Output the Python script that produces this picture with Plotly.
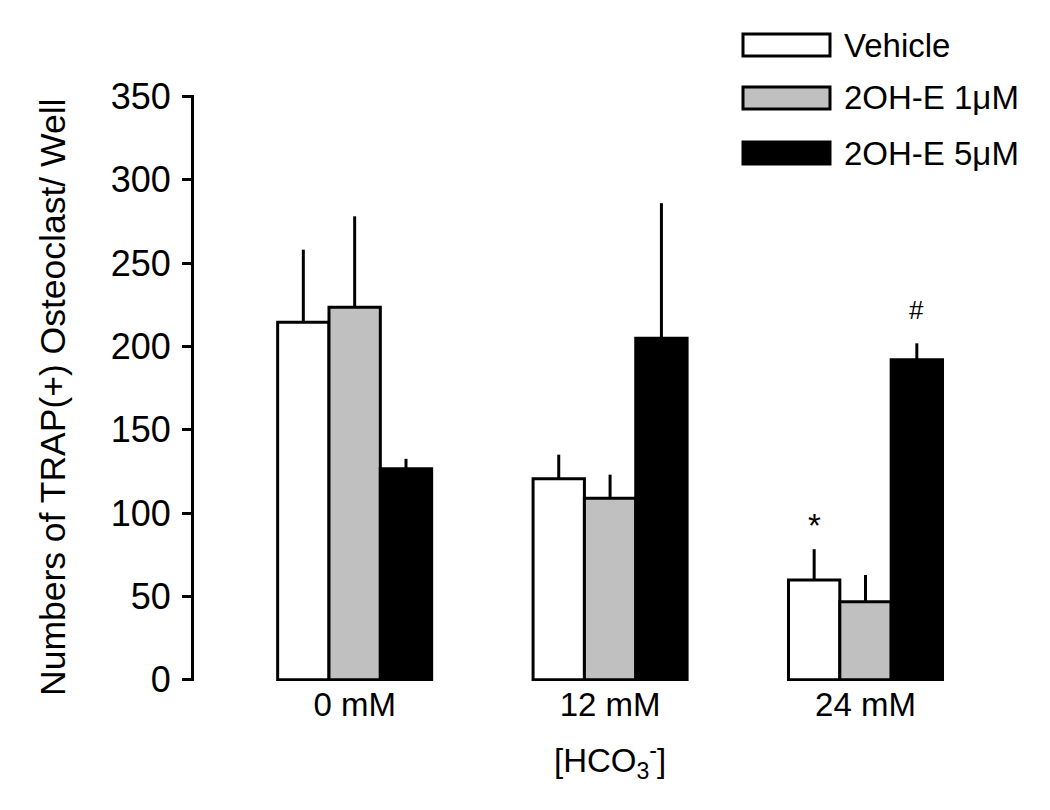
import plotly.graph_objects as go

categories = ["0 mM", "12 mM", "24 mM"]
series_names = ["Vehicle", "2OH-E 1μM", "2OH-E 5μM"]
vehicle = [214.4, 120.5, 59.8]
vehicle_err = [43.6, 14.5, 18.5]
ohe1 = [223.4, 108.8, 46.8]
ohe1_err = [54.6, 14.2, 16.0]
ohe5 = [126.5, 204.8, 191.9]
ohe5_err = [6.0, 81.1, 9.9]
y_ticks = [0, 50, 100, 150, 200, 250, 300, 350]
# significance marks: (series index, category index, symbol)
sig_marks = [(0, 2, "*"), (2, 2, "#")]

values = [vehicle, ohe1, ohe5]
errors = [vehicle_err, ohe1_err, ohe5_err]
fills = ["#ffffff", "#c0c0c0", "#000000"]

FONT = "Liberation Sans, Arial, sans-serif"
OFF = 8  # page body margin
W, H = 1050 - 2 * OFF, 810 - 2 * OFF
L, T = 194 - OFF, 95 - OFF
R = W - (995 - OFF)
B = H - (681 - OFF)
plot_w = W - L - R
plot_h = H - T - B

BARGAP = 0.397
bar_w = (1 - BARGAP) / 3

fig = go.Figure()
for name, v, e, c in zip(series_names, values, errors, fills):
    fig.add_trace(go.Bar(
        x=categories, y=v, name=name,
        marker=dict(color=c, line=dict(color="black", width=3)),
        error_y=dict(type="data", symmetric=False, array=e,
                     arrayminus=[0] * len(e), width=0, thickness=3,
                     color="black"),
        showlegend=False,
    ))

# significance annotations
for si, ci, sym in sig_marks:
    xpos = ci + (si - 1) * bar_w
    ytop = values[si][ci] + errors[si][ci]
    if sym == "*":
        fig.add_annotation(x=xpos, y=ytop + 2, text=sym, showarrow=False,
                           yanchor="bottom", font=dict(size=33, family=FONT, color="black"))
    else:
        fig.add_annotation(x=xpos, y=ytop + 10, text=sym, showarrow=False,
                           yanchor="bottom", font=dict(size=26, family=FONT, color="black"))


def px_x(px):
    return (px - OFF - L) / plot_w


def px_y(py):
    return (H - B - (py - OFF)) / plot_h


# custom legend with large boxes
row_centers = [45, 98, 153]
for name, c, yc in zip(series_names, fills, row_centers):
    fig.add_shape(type="rect", xref="paper", yref="paper",
                  x0=px_x(743), x1=px_x(830), y0=px_y(yc + 11), y1=px_y(yc - 11),
                  fillcolor=c, line=dict(color="black", width=3))
    fig.add_annotation(xref="paper", yref="paper", x=px_x(842), y=px_y(yc),
                       text=name, showarrow=False, xanchor="left", yanchor="middle",
                       font=dict(size=33, family=FONT, color="black"))

# y-axis title
fig.add_annotation(xref="paper", yref="paper", x=px_x(53), y=px_y(398),
                   text="Numbers of TRAP(+) Osteoclast/ Well", textangle=-90,
                   showarrow=False, xanchor="center", yanchor="middle",
                   font=dict(size=35.5, family=FONT, color="black"))
# x-axis title
fig.add_annotation(xref="paper", yref="paper", x=px_x(610), y=px_y(760),
                   text="[HCO<sub>3</sub><sup>-</sup>]",
                   showarrow=False, xanchor="center", yanchor="middle",
                   font=dict(size=33, family=FONT, color="black"))

fig.update_layout(
    width=W, height=H,
    margin=dict(l=L, r=R, t=T, b=B),
    paper_bgcolor="white", plot_bgcolor="white",
    barmode="group", bargap=BARGAP, bargroupgap=0,
    font=dict(family=FONT, color="black"),
    xaxis=dict(type="category", range=[-0.629, 2.507], showline=False,
               showgrid=False, zeroline=False, ticks="",
               tickfont=dict(size=33, family=FONT, color="black"),
               ticklabelstandoff=1),
    yaxis=dict(range=[-0.8, 350.8], tickvals=y_ticks, showline=True,
               linecolor="black", linewidth=3, ticks="outside", ticklen=9,
               tickwidth=3, tickcolor="black", showgrid=False, zeroline=False,
               tickfont=dict(size=36, family=FONT, color="black"),
               ticklabelstandoff=4),
)

fig.write_html("out.html")
